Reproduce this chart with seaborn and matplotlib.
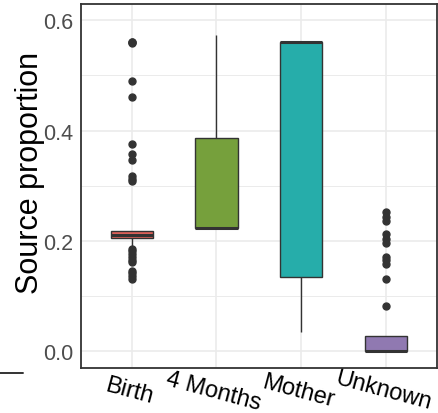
import matplotlib
matplotlib.use("Agg")
import matplotlib.pyplot as plt
import seaborn as sns
import pandas as pd
from matplotlib.lines import Line2D

categories = ["Birth", "4 Months", "Mother", "Unknown"]
colors = ["#E0625A", "#76A03C", "#26ADAA", "#9079B1"]

birth = [0.131, 0.136, 0.141, 0.146, 0.161, 0.166, 0.171, 0.176, 0.181, 0.186, 0.191,
         0.205, 0.205, 0.206, 0.206, 0.207, 0.207, 0.208, 0.208, 0.209, 0.209, 0.209,
         0.210, 0.210, 0.210, 0.211, 0.211, 0.212, 0.212, 0.213, 0.213, 0.214, 0.215,
         0.216, 0.216, 0.217, 0.217,
         0.309, 0.313, 0.318, 0.346, 0.358, 0.376, 0.461, 0.489, 0.558, 0.560, 0.561]
four_months = [0.224, 0.224, 0.224, 0.224, 0.224, 0.224, 0.224,
               0.300, 0.384, 0.392, 0.395, 0.573]
mother = [0.034, 0.080, 0.120, 0.140, 0.300, 0.560, 0.560, 0.560, 0.560, 0.560,
          0.561, 0.561]
unknown = [0.0, 0.0, 0.0, 0.0, 0.0, 0.0, 0.0, 0.0, 0.0, 0.0, 0.0, 0.0, 0.0, 0.0,
           0.0, 0.0, 0.0, 0.0, 0.0, 0.0, 0.0, 0.0, 0.0, 0.0,
           0.004, 0.008, 0.012, 0.016, 0.020, 0.024, 0.026, 0.027, 0.027, 0.027,
           0.027, 0.027,
           0.081, 0.1305, 0.158, 0.165, 0.170, 0.197, 0.204, 0.212, 0.236, 0.244, 0.252]

values = {"Birth": birth, "4 Months": four_months, "Mother": mother, "Unknown": unknown}
rows = [(k, v) for k in categories for v in values[k]]
df = pd.DataFrame(rows, columns=["source", "proportion"])

sns.set_style("white")
plt.rcParams["font.family"] = ["Liberation Sans", "DejaVu Sans"]

fig = plt.figure(figsize=(4.38, 4.14), dpi=100)
ax = fig.add_axes([0.185, 0.1094, 0.8116, 0.8792])

sns.boxplot(data=df, x="source", y="proportion", hue="source", order=categories,
            hue_order=categories, palette=colors, saturation=1, width=0.5,
            linecolor="#333333", linewidth=1.0, fliersize=5, showcaps=False,
            legend=False,
            flierprops=dict(marker="o", markerfacecolor="#333333",
                            markeredgecolor="#333333"),
            medianprops=dict(linewidth=2.2, color="#333333"),
            ax=ax, zorder=3)

ax.set_xlim(-0.6, 3.6)
ax.set_ylim(-0.03, 0.63)
ax.set_yticks([0.0, 0.2, 0.4, 0.6])
ax.set_yticklabels(["0.0", "0.2", "0.4", "0.6"])
ax.set_yticks([0.1, 0.3, 0.5], minor=True)
ax.grid(True, which="major", color="#EBEBEB", linewidth=1.2, zorder=0)
ax.grid(True, which="minor", axis="y", color="#EBEBEB", linewidth=0.7, zorder=0)
ax.set_axisbelow(True)

for s in ax.spines.values():
    s.set_color("#333333")
    s.set_linewidth(1.3)

ax.tick_params(axis="both", which="major", direction="out", length=3.2, width=1.0,
               color="#333333")
ax.tick_params(axis="y", which="major", labelsize=15.5, labelcolor="#4D4D4D", pad=2.4)
ax.tick_params(axis="y", which="minor", length=0)
ax.tick_params(axis="x", labelsize=17, labelcolor="black", pad=5.5)
for lab in ax.get_xticklabels():
    lab.set_rotation(-15)
    lab.set_ha("center")
    lab.set_va("top")
    lab.set_rotation_mode("anchor")

ax.set_xlabel("")
ax.set_ylabel("Source proportion", fontsize=22, color="black")
ax.yaxis.set_label_coords(-0.1, 0.539)

fig.add_artist(Line2D([0.0, 0.053], [1 - 374 / 414, 1 - 374 / 414],
                      color="#333333", linewidth=1.4, transform=fig.transFigure))

fig.savefig("out.png", dpi=100)
